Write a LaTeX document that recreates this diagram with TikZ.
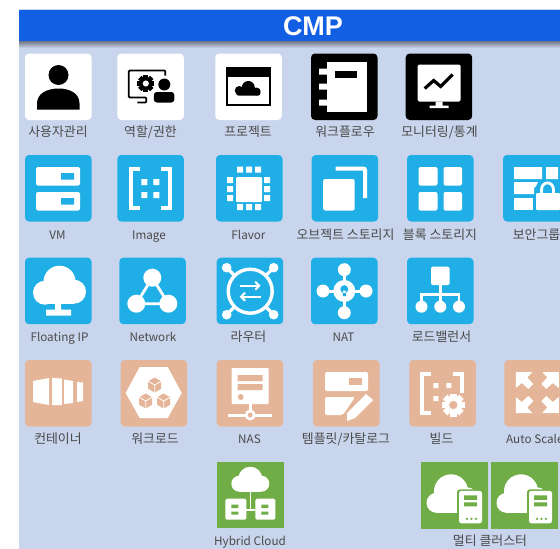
\documentclass[tikz,border=0pt]{standalone}
\usepackage{fontspec}
\setmainfont{Noto Sans CJK KR}
\newfontfamily\titlefont{Liberation Sans}
\usetikzlibrary{arrows.meta}
\definecolor{panel}{HTML}{C9D5EC}
\definecolor{barblue}{HTML}{135FE3}
\definecolor{cy}{HTML}{1FAFE6}
\definecolor{tan}{HTML}{E4B598}
\definecolor{grn}{HTML}{70AD47}
\definecolor{lab}{HTML}{4A4A4A}
\tikzset{
  lbl/.style={text=lab,font=\fontsize{12.9}{14}\selectfont,inner sep=0pt,anchor=center,text height=9pt,text depth=3pt,yshift=-1.5pt},
  lat/.style={text=lab,font=\fontsize{11.7}{14}\selectfont,inner sep=0pt,anchor=center,text height=9pt,text depth=3pt,yshift=-1pt},
  wl/.style={white,line width=3.8pt},
}
\newcommand{\ico}[4]{\begin{scope}[shift={(#1,#2)}]\fill[#3,rounded corners=4pt] (0,0) rectangle (66.5,66.5);#4\end{scope}}
\newcommand{\sqico}[4]{\begin{scope}[shift={(#1,#2)}]\fill[#3] (0,0) rectangle (66.5,66.5);#4\end{scope}}
% gear: x y radius fill hole
\newcommand{\gearat}[5]{\begin{scope}[shift={(#1,#2)}]
 \foreach \a in {0,45,...,315}{\fill[#4,rotate=\a] (-0.28*#3,0) rectangle (0.28*#3,#3);}
 \fill[#4] (0,0) circle (0.76*#3);\fill[#5] (0,0) circle (0.36*#3);\end{scope}}
\newcommand{\cube}[2]{\begin{scope}[shift={(#1,#2)}]
 \fill[tan] (0,-7.5)--(6.5,-3.7)--(6.5,3.7)--(0,7.5)--(-6.5,3.7)--(-6.5,-3.7)--cycle;
 \draw[white,line width=.8pt] (-6.5,-3.7)--(0,0)--(6.5,-3.7) (0,0)--(0,7.5);\end{scope}}
\newcommand{\mcloud}{
 \fill[white] (30,29) circle (17) (15.5,40.5) circle (10) (46,35) circle (10);
 \fill[white] (15.5,32) rectangle (50,50.5);
 \fill[grn,rounded corners=3pt] (36,27) rectangle (62.5,62.5);
 \fill[white,rounded corners=2.5pt] (38,28.5) rectangle (61,61);
 \fill[grn] (43,33) rectangle (56,37.5) (43,40) rectangle (56,44);
 \fill[grn] (46,56.5) circle (1.3) (50.5,56.5) circle (1.3) (55,56.5) circle (1.3);}
\begin{document}
\begin{tikzpicture}[x=1pt,y=-1pt]
\useasboundingbox (0,0) rectangle (560,549);
\begin{scope}
\clip (0,0) rectangle (560,549);
\fill[white] (0,0) rectangle (560,549);
\fill[panel] (19,9) rectangle (560,549);
\shade[top color=black!45!panel,bottom color=panel] (19,41) rectangle (560,48);
\fill[barblue] (19,9.5) rectangle (560,41);
\node[text=white,font=\titlefont\fontsize{27}{29}\bfseries\selectfont,inner sep=0pt] (title) at (313,26) {CMP};

% ---- row 1
\ico{25}{53.5}{white}{
 \fill[black] (33.5,21.5) circle (10);
 \fill[black] (12,56) -- (12,50) .. controls (12,40) and (22,35) .. (33.5,35) .. controls (45,35) and (54.5,40) .. (54.5,50) -- (54.5,56) -- cycle;}
\ico{117.3}{53.5}{white}{
 \draw[black,line width=1.8pt,rounded corners=1pt] (48,22) -- (48,17) -- (11.5,17) -- (11.5,44) -- (29,44) -- (29,49) -- (20,49);
 \gearat{28.5}{30}{8.5}{black}{white}
 \fill[black] (47,31) circle (6);
 \fill[black,rounded corners=3pt] (36.5,49) -- (36.5,38.5) -- (57,38.5) -- (57,49) -- cycle;}
\ico{215.3}{53.5}{white}{
 \draw[black,line width=1.6pt] (11.6,14) rectangle (54.6,51.5);
 \fill[black] (11,13) rectangle (55,23);
 \fill[black] (24,37) circle (4.5) (33,34) circle (6.5) (41,38) circle (4);
 \fill[black,rounded corners=2pt] (21,35) -- (45,35) -- (45,42) -- (21,42) -- cycle;}
\ico{311}{53.5}{black}{
 \fill[white] (16,8) rectangle (56,58);
 \fill[white] (8,15) rectangle (16,21) (8,30) rectangle (16,36) (8,46) rectangle (16,52);
 \fill[black] (24,17) rectangle (46,24);}
\ico{405.7}{53.5}{black}{
 \fill[white,rounded corners=1.5pt] (12,11) rectangle (55,48);
 \fill[white] (30,48) rectangle (37,52.5) (24,52) rectangle (43,54.5);
 \draw[black,line width=3.2pt] (19,35) -- (28,27) -- (35,33) -- (47,21);}

% ---- row 2
\ico{25}{155}{cy}{
 \fill[white,rounded corners=2pt] (11,12) rectangle (55,30.5) (11,37) rectangle (55,55.5);
 \fill[cy] (36,18) rectangle (49,24.5) (36,43) rectangle (49,49.5);}
\ico{117.3}{155}{cy}{
 \draw[wl,line cap=butt] (23,13.9) -- (13.9,13.9) -- (13.9,53.1) -- (23,53.1);
 \draw[wl,line cap=butt] (43.5,13.9) -- (53,13.9) -- (53,53.1) -- (43.5,53.1);
 \fill[white] (24,24) rectangle (30,30) (36,24) rectangle (42,30) (24,37) rectangle (30,43) (36,37) rectangle (42,43);}
\ico{216}{155}{cy}{
 \fill[white,rounded corners=1pt] (20,22) rectangle (46,47);
 \foreach \p in {21,30,39}{\fill[white] (\p,11.5) rectangle (\p+6,17.5) (\p,49) rectangle (\p+6,55);}
 \foreach \p in {22,31,40}{\fill[white] (11,\p) rectangle (17,\p+6) (48,\p) rectangle (54,\p+6);}}
\ico{311.7}{155}{cy}{
 \fill[white,rounded corners=2pt] (11.5,24) rectangle (43,55.5);
 \draw[white,line width=4pt,rounded corners=2pt] (24,13.5) -- (53.5,13.5) -- (53.5,43);}
\ico{407}{155}{cy}{
 \fill[white,rounded corners=2pt] (11.5,12) rectangle (30.5,30.5) (36.5,12) rectangle (55,30.5) (11.5,37) rectangle (30.5,55.5) (36.5,37) rectangle (55,55.5);}
\ico{503}{155}{cy}{
 \fill[white] (11,12) rectangle (39,24) (43,12) rectangle (55,24);
 \fill[white] (11,27) -- (35,27) -- (33,31) -- (31,33) -- (31,39) -- (11,39) -- cycle;
 \fill[white] (11,43) rectangle (30,55);
 \draw[white,line width=2.8pt] (38.5,40) -- (38.5,35) .. controls (38.5,25.5) and (50.5,25.5) .. (50.5,35) -- (50.5,40);
 \fill[white,rounded corners=1pt] (33,38) rectangle (57,55);}

% ---- row 3
\ico{25}{257.7}{cy}{
 \fill[white] (34.5,24) circle (16) (20,35) circle (12) (49,34) circle (12);
 \fill[white] (20,32) rectangle (49,46.5);
 \fill[white] (30,44) rectangle (36,54) (21,52) rectangle (46,58);}
\ico{119.3}{257.7}{cy}{
 \draw[white,line width=2.8pt] (33,20) -- (17,46) -- (49,46) -- cycle;
 \fill[white] (33,20) circle (9) (17,46) circle (9) (49,46) circle (9);}
\ico{216.7}{257.7}{cy}{
 \draw[white,line width=3.2pt] (10,10) -- (57,57) (57,10) -- (10,57);
 \fill[cy] (33.5,33.5) circle (23);
 \draw[white,line width=3.4pt] (33.5,33.5) circle (22);
 \fill[white] (10,10) circle (4.8) (57,10) circle (4.8) (10,57) circle (4.8) (57,57) circle (4.8);
 \draw[white,line width=2pt,-{Straight Barb[length=4pt,width=8pt]}] (23,28) -- (44,28);
 \draw[white,line width=2pt,-{Straight Barb[length=4pt,width=8pt]}] (44,39) -- (23,39);}
\ico{311}{257.7}{cy}{
 \draw[white,line width=3pt] (33.3,12) -- (33.3,56) (12,33.3) -- (55,33.3);
 \fill[white] (33.3,12) circle (6.5) (33.3,55) circle (6.5) (12,33.3) circle (6.5) (55,33.3) circle (6.5);
 \fill[white] (33.3,33.3) circle (11);
 \fill[cy] (33.3,31.5) circle (4) (31.8,33) rectangle (34.8,38.5);}
\ico{407}{257.7}{cy}{
 \fill[white,rounded corners=1.5pt] (24,9) rectangle (42.5,27.5);
 \draw[white,line width=2.6pt] (33.3,27) -- (33.3,49) (14.5,49) -- (14.5,36.5) -- (52,36.5) -- (52,49);
 \fill[white] (14.5,49) circle (6) (33.3,49) circle (6) (52,49) circle (6);}

% ---- row 4
\ico{25}{360}{tan}{
 \fill[white] (8,21) -- (24,18) -- (24,45) -- (8,42) -- cycle;
 \fill[white] (27,18) -- (37,18.5) -- (37,45) -- (27,45) -- cycle;
 \fill[white] (39,19.5) -- (48,21) -- (48,43) -- (39,44) -- cycle;
 \fill[white] (52,22) -- (58,22.5) -- (58,41) -- (52,42) -- cycle;}
\ico{120.7}{360}{tan}{
 \fill[white] (5,33) -- (19,7) -- (47,7) -- (61,33) -- (47,58) -- (19,58) -- cycle;
 \cube{34}{25}\cube{25}{41}\cube{43}{41}}
\ico{216.7}{360}{tan}{
 \fill[white,rounded corners=1pt] (15,8) rectangle (52,44);
 \fill[tan] (21,15) rectangle (46,21) (21,24) rectangle (46,30) (24,37) circle (3);
 \draw[white,line width=3pt] (33.5,44) -- (33.5,52) (11.5,55) -- (55,55);
 \fill[white] (33.5,55) circle (5.5);
 \fill[tan] (33.5,55) circle (2.5);}
\ico{313}{360}{tan}{
 \fill[white,rounded corners=2pt] (12,12) rectangle (55,31);
 \fill[tan] (36,18) rectangle (49,24.5);
 \fill[white,rounded corners=2pt] (12,37) -- (42,37) -- (30,55) -- (12,55) -- cycle;
 \fill[white] (53,34) -- (60,40) -- (42,58) -- (34,61) -- (34,53) -- cycle;}
\ico{409.3}{360}{tan}{
 \draw[wl] (22,13.7) -- (12.7,13.7) -- (12.7,53) -- (22,53);
 \draw[wl] (44,13.7) -- (52.5,13.7) -- (52.5,33);
 \fill[white] (24,23) rectangle (29,28) (37,23) rectangle (42,28) (24,36) rectangle (29,41);
 \fill[tan] (44,45) circle (14);
 \gearat{44}{45}{11.5}{white}{tan}}
\ico{504.3}{360}{tan}{
 \foreach \sx/\sy in {1/1,-1/1,1/-1,-1/-1}{
  \begin{scope}[shift={(33,32.5)},xscale=\sx,yscale=\sy]
   \fill[white] (-21.5,-20.5) -- (-5,-20.5) -- (-10,-15) -- (-4,-8.5) -- (-9,-3.5) -- (-15.5,-9.5) -- (-21.5,-4.5) -- cycle;
  \end{scope}}}

% ---- row 5
\sqico{217.3}{461.7}{grn}{
 \fill[white] (33,17) circle (12) (22,22) circle (8) (44,22) circle (8);
 \fill[white] (22,22) rectangle (44,30);
 \draw[white,line width=1.6pt] (33,29) -- (33,48) (28,48) -- (38,48);
 \fill[white,rounded corners=1.5pt] (8,37) rectangle (29,58) (38,37) rectangle (58,58);
 \fill[grn] (14,43) rectangle (21,46.5) (14,50) rectangle (21,53) (44,43) rectangle (51,46.5) (44,50) rectangle (51,53);}
\sqico{421}{462.3}{grn}{\mcloud}
\sqico{491}{462.3}{grn}{\mcloud}

% ---- labels
\node[lbl] (l1) at (58,132) {사용자관리};
\node[lbl] (l2) at (150.5,132) {역할/권한};
\node[lbl] (l3) at (248,132) {프로젝트};
\node[lbl] (l4) at (345,132) {워크플로우};
\node[lbl] (l5) at (439.5,132) {모니터링/통계};
\node[lat] (l6) at (57.5,235) {VM};
\node[lat] (l7) at (149,235) {Image};
\node[lat] (l8) at (248.5,235) {Flavor};
\node[lbl] (l9) at (345.5,235) {오브젝트 스토리지};
\node[lbl] (l10) at (440,235) {블록 스토리지};
\node[lbl] (l11) at (536.5,235) {보안그룹};
\node[lat] (l12) at (59.5,337) {Floating IP};
\node[lat] (l13) at (153,337) {Network};
\node[lbl] (l14) at (248.5,337) {라우터};
\node[lat] (l15) at (343.5,337) {NAT};
\node[lbl] (l16) at (441.5,337) {로드밸런서};
\node[lbl] (l17) at (58,439) {컨테이너};
\node[lbl] (l18) at (155,439) {워크로드};
\node[lat] (l19) at (249.5,439) {NAS};
\node[lbl] (l20) at (346,439) {템플릿/카탈로그};
\node[lbl] (l21) at (441.5,439) {빌드};
\node[lat,anchor=west] (l22) at (506,439) {Auto Scale};
\node[lat] (l23) at (250,541) {Hybrid Cloud};
\node[lbl] (l24) at (490,541) {멀티 클러스터};
\end{scope}
\end{tikzpicture}
\end{document}
